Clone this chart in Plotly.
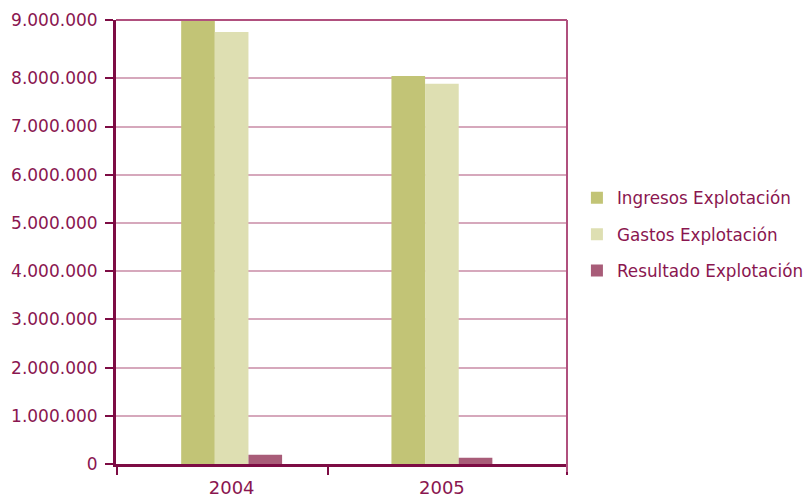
import plotly.graph_objects as go

# Operating figures per year (euros)
years = [2004, 2005]
year_labels = ["2004", "2005"]
ingresos = [9200000, 8050000]
gastos = [8960000, 7890000]
resultado = [190000, 130000]

series_names = ["Ingresos Explotación", "Gastos Explotación", "Resultado Explotación"]
series_values = [ingresos, gastos, resultado]
series_colors = ["#c2c476", "#dedfb2", "#a85c78"]

y_tick_values = [0, 1000000, 2000000, 3000000, 4000000, 5000000,
                 6000000, 7000000, 8000000, 9210000]
y_tick_text = ["0", "1.000.000", "2.000.000", "3.000.000", "4.000.000",
               "5.000.000", "6.000.000", "7.000.000", "8.000.000", "9.000.000"]
y_max = 9210000

# category separators on the x axis
x_range = [2003.45, 2005.595]
x_separators = [2003.453, 2004.46, 2005.595]

TEXT = "#8a1650"
AXIS = "#7d0c44"
GRID = "#d6a8bc"
FRAME = "#b0507e"
FONT = "DejaVu Sans"

fig = go.Figure()
for i, (name, vals, col) in enumerate(zip(series_names, series_values, series_colors)):
    fig.add_trace(go.Bar(
        x=years, y=vals, name=name, marker_color=col,
        marker_line_width=0, legendgroup=f"g{i}",
    ))

fig.update_layout(
    width=805, height=497,
    margin=dict(l=116, r=238, t=20, b=33, autoexpand=False),
    paper_bgcolor="white", plot_bgcolor="white",
    barmode="group", bargap=0.52, bargroupgap=0,
    font=dict(family=FONT, size=17, color=TEXT),
    showlegend=True,
    legend=dict(
        x=1.022, xanchor="left", y=0.517, yanchor="middle",
        traceorder="grouped", tracegroupgap=11.5,
        font=dict(family=FONT, size=16.8, color=TEXT),
        bgcolor="rgba(0,0,0,0)",
    ),
    xaxis=dict(
        range=x_range, tickmode="array", tickvals=years, ticktext=year_labels,
        ticks="", showgrid=False, zeroline=False, automargin=False,
        showline=True, linecolor=AXIS, linewidth=3,
        tickfont=dict(family=FONT, size=18, color=TEXT),
        ticklabelstandoff=5,
        minor=dict(tickmode="array", tickvals=x_separators, ticks="outside",
                   ticklen=8, tickwidth=1.5, tickcolor=AXIS, showgrid=False),
    ),
    yaxis=dict(
        range=[0, y_max], tickmode="array", tickvals=y_tick_values, ticktext=y_tick_text,
        ticks="outside", ticklen=8, tickwidth=1.5, tickcolor=AXIS,
        showgrid=True, gridcolor=GRID, gridwidth=1.5, automargin=False,
        zeroline=False, showline=True, linecolor=AXIS, linewidth=3,
        tickfont=dict(family=FONT, size=17, color=TEXT),
        ticklabelstandoff=4,
    ),
    shapes=[
        dict(type="line", xref="paper", yref="paper", x0=0, x1=1, y0=1, y1=1,
             line=dict(color=FRAME, width=2)),
        dict(type="line", xref="paper", yref="paper", x0=1, x1=1, y0=-0.018, y1=1,
             line=dict(color=FRAME, width=2)),
    ],
)

fig.write_html("out.html")
